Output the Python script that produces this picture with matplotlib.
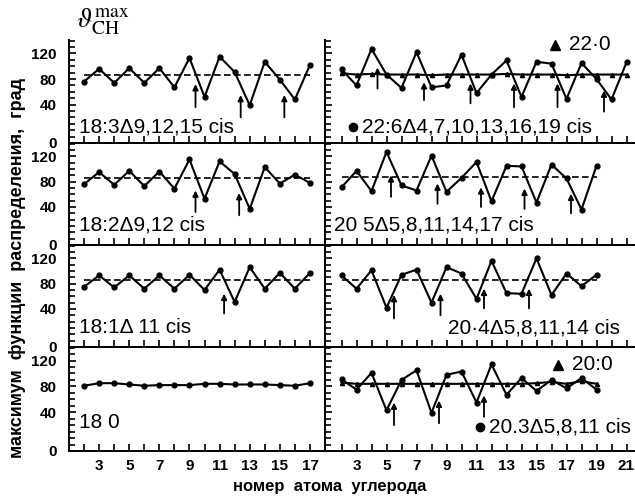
import numpy as np
import matplotlib
matplotlib.use("Agg")
import matplotlib.pyplot as plt

plt.rcParams['font.family'] = ['Liberation Sans', 'DejaVu Sans']
plt.rcParams['mathtext.fontset'] = 'stix'

# carbon atom numbers
x_18 = list(range(2, 18))
x_20 = list(range(2, 20))
x_22 = list(range(2, 22))

# max of CH distribution function, deg
y_183 = [76, 96, 74, 97, 74, 97, 67, 113, 52, 115, 91, 39, 107, 79, 48, 102]
y_182 = [76, 95, 75, 97, 73, 96, 69, 115, 53, 112, 92, 37, 103, 77, 91, 78]
y_181 = [75, 93, 74, 93, 72, 93, 72, 94, 70, 102, 51, 106, 72, 97, 72, 97]
y_180 = [81, 85, 85, 83, 81, 82, 82, 82, 84, 84, 83, 83, 83, 82, 81, 85]
y_226 = [95, 70, 127, 87, 66, 122, 67, 70, 118, 58, 87, 109, 52, 107, 104, 49, 105, 80, 48, 106]
y_220 = [89, 87, 88, 87, 87, 87, 86, 87, 87, 87, 87, 88, 87, 87, 87, 86, 87, 87, 87, 87]
y_205 = [71, 97, 65, 127, 74, 66, 121, 64, 86, 111, 49, 105, 104, 47, 107, 85, 36, 105]
y_204 = [93, 72, 101, 42, 94, 102, 50, 106, 96, 56, 116, 65, 64, 120, 62, 96, 76, 94]
y_203 = [91, 75, 101, 43, 90, 105, 39, 98, 103, 55, 114, 67, 93, 73, 90, 77, 93, 75]
y_200 = [86, 84, 84, 84, 84, 84, 84, 84, 84, 84, 84, 84, 84, 85, 87, 84, 88, 84]

# mean (dashed) levels
mean_183, mean_182, mean_181 = 86, 85, 85
mean_205, mean_204 = 87, 85

# double bond arrows: position, tail, head
arr_183 = ([9.4, 12.4, 15.3], [36, 20, 20], [72, 55, 55])
arr_182 = ([9.4, 12.3], [32, 27], [66, 62])
arr_181 = ([11.3], [33], [64])
arr_226 = ([4.4, 7.5, 10.6, 13.5, 16.4, 19.5], [65, 47, 42, 36, 36, 29], [98, 75, 73, 73, 73, 62])
arr_205 = ([5.3, 8.4, 11.3, 14.2, 17.3], [56, 45, 40, 37, 30], [90, 77, 71, 69, 61])
arr_204 = ([5.5, 8.6, 11.5, 14.5], [25, 30, 41, 41], [62, 64, 72, 72])
arr_203 = ([5.5, 8.5, 11.5], [20, 23, 33], [55, 58, 66])

ytick_pos = [-20, 40, 80, 120]
ytick_lab = ['0', '40', '80', '120']

W, H = 635, 499
fig = plt.figure(figsize=(W / 100, H / 100), dpi=100)

rows = [(40, 143), (143, 245), (245, 347), (347, 451)]
cols = [(69, 325), (325, 634)]


def make_ax(r, c):
    top, bot = rows[r]
    left, right = cols[c]
    ax = fig.add_axes([left / W, 1 - bot / H, (right - left) / W, (bot - top) / H])
    ax.set_ylim(-20, 141)
    if c == 0:
        ax.set_xlim(1, 18)
        ax.set_xticks(range(2, 18))
        labs = [str(v) if v % 2 == 1 else '' for v in range(2, 18)]
    else:
        ax.set_xlim(0.9, 21.5)
        ax.set_xticks(range(2, 22))
        labs = [str(v) if v % 2 == 1 else '' for v in range(2, 22)]
    ax.set_yticks(ytick_pos)
    ax.set_yticks(np.arange(-20, 141, 10), minor=True)
    ax.tick_params(axis='both', which='both', direction='in', width=1.2, color='k')
    ax.tick_params(axis='y', which='major', length=5, pad=9)
    ax.tick_params(axis='y', which='minor', length=4)
    ax.tick_params(axis='x', length=5, pad=6)
    if r == 3:
        ax.set_xticklabels(labs, fontsize=11, fontweight='bold')
    else:
        ax.set_xticklabels([])
    if c == 0:
        ax.set_yticklabels(ytick_lab, fontsize=11, fontweight='bold')
    else:
        ax.set_yticklabels([])
    for s in ax.spines.values():
        s.set_linewidth(1.4)
    if r == 0:
        ax.spines['top'].set_visible(False)
    if c == 1:
        ax.spines['right'].set_visible(False)
    ax.patch.set_alpha(0)
    return ax


def series(ax, x, y, marker='o', ms=3.5):
    ax.plot(x, y, '-', color='k', lw=1.5, marker=marker, ms=ms, mfc='k', mec='k')


def mean_line(ax, x, level):
    ax.plot([x[0], x[-1]], [level, level], '--', color='k', lw=1.2, dashes=(4, 2))


def arrows(ax, arr):
    for xa, t, h in zip(*arr):
        ax.annotate('', xy=(xa, h), xytext=(xa, t),
                    arrowprops=dict(arrowstyle='-|>', lw=1.3, color='k',
                                    mutation_scale=8, shrinkA=0, shrinkB=0))


txt_kw = dict(fontsize=15, color='k', va='center')

# left column
ax = make_ax(0, 0)
mean_line(ax, x_18, mean_183)
series(ax, x_18, y_183)
arrows(ax, arr_183)
ax.text(0.04, 0.16, '18:3\u03949,12,15 cis', transform=ax.transAxes, **txt_kw)

ax = make_ax(1, 0)
mean_line(ax, x_18, mean_182)
series(ax, x_18, y_182)
arrows(ax, arr_182)
ax.text(0.04, 0.2, '18:2\u03949,12 cis', transform=ax.transAxes, **txt_kw)

ax = make_ax(2, 0)
mean_line(ax, x_18, mean_181)
series(ax, x_18, y_181)
arrows(ax, arr_181)
ax.text(0.04, 0.19, '18:1\u0394 11 cis', transform=ax.transAxes, **txt_kw)

ax = make_ax(3, 0)
series(ax, x_18, y_180)
ax.text(0.04, 0.27, '18 0', transform=ax.transAxes, **txt_kw)

# right column
ax = make_ax(0, 1)
ax.plot(x_22, y_220, '-', color='k', lw=1.5, marker='^', ms=3, mfc='k', mec='k')
series(ax, x_22, y_226)
arrows(ax, arr_226)
ax.plot([0.745], [0.955], marker='^', ms=7, color='k', transform=ax.transAxes)
ax.text(0.79, 0.955, '22\u00b70', transform=ax.transAxes, **txt_kw)
ax.plot([0.09], [0.16], marker='o', ms=6, color='k', transform=ax.transAxes)
ax.text(0.12, 0.16, '22:6\u03944,7,10,13,16,19 cis', transform=ax.transAxes, **txt_kw)

ax = make_ax(1, 1)
mean_line(ax, x_20, mean_205)
series(ax, x_20, y_205)
arrows(ax, arr_205)
ax.text(0.03, 0.2, '20 5\u03945,8,11,14,17 cis', transform=ax.transAxes, **txt_kw)

ax = make_ax(2, 1)
mean_line(ax, x_20, mean_204)
series(ax, x_20, y_204)
arrows(ax, arr_204)
ax.text(0.955, 0.19, '20\u00b74\u03945,8,11,14 cis', transform=ax.transAxes, ha='right', **txt_kw)

ax = make_ax(3, 1)
ax.plot(x_20, y_200, '-', color='k', lw=1.5, marker='^', ms=3, mfc='k', mec='k')
series(ax, x_20, y_203)
arrows(ax, arr_203)
ax.plot([0.755], [0.83], marker='^', ms=7, color='k', transform=ax.transAxes)
ax.text(0.80, 0.83, '20:0', transform=ax.transAxes, **txt_kw)
ax.plot([0.5], [0.23], marker='o', ms=6, color='k', transform=ax.transAxes)
ax.text(0.53, 0.23, '20.3\u03945,8,11 cis', transform=ax.transAxes, **txt_kw)

# labels
fig.text(76 / W, 1 - 22 / H, r'$\vartheta_{\mathrm{CH}}^{\mathrm{max}}$', fontsize=20,
         va='center', ha='left')
fig.text(18 / W, 1 - 268 / H, 'максимум  функции  распределения,  град',
         rotation=90, fontsize=13, fontweight='bold', va='center', ha='center')
fig.text(330 / W, 1 - 487 / H, 'номер  атома  углерода', fontsize=12,
         fontweight='bold', va='center', ha='center')

fig.savefig('out.png', dpi=100)
